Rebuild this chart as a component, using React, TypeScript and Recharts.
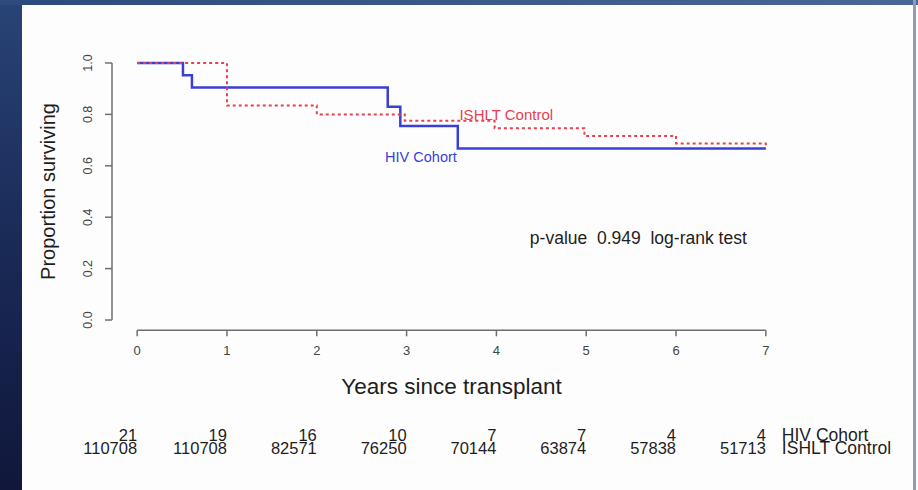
import React from 'react';
import {
  ComposedChart,
  Line,
  XAxis,
  YAxis,
  ReferenceLine,
  ReferenceDot,
} from 'recharts';

// Kaplan-Meier steps, one array for times and one for survival per group
const hivTimes = [0, 0.51, 0.61, 2.79, 2.93, 3.57, 7];
const hivSurv = [1, 0.952, 0.905, 0.83, 0.755, 0.667, 0.667];
const ishltTimes = [0, 1, 2, 2.98, 3.98, 4.98, 6, 7];
const ishltSurv = [1, 0.835, 0.8, 0.775, 0.746, 0.716, 0.687, 0.675];

const yearTicks = [0, 1, 2, 3, 4, 5, 6, 7];
const survTicks = [0, 0.2, 0.4, 0.6, 0.8, 1];

// numbers at risk under each year tick
const hivAtRisk = [21, 19, 16, 10, 7, 7, 4, 4];
const ishltAtRisk = [110708, 110708, 82571, 76250, 70144, 63874, 57838, 51713];
const groupNames = ['HIV Cohort', 'ISHLT Control'];

// non-breaking spaces keep the wide gaps (plain spaces get collapsed)
const pValueText = 'p-value\u00A0\u00A00.949\u00A0\u00A0log-rank test';

const FONT = "'Liberation Sans', Arial, Helvetica, sans-serif";
const BLUE = '#3a3fd8';
const RED = '#e8404e';
const AXIS = '#6f6f6f';

// R pads the plot region by 4% on each side
const X_DOMAIN: [number, number] = [-0.28, 7.28];
const Y_DOMAIN: [number, number] = [-0.04, 1.04];

const hivData = hivTimes.map((t, i) => ({ t, s: hivSurv[i] }));
const ishltData = ishltTimes.map((t, i) => ({ t, s: ishltSurv[i] }));

const XTick = (props: any) => {
  const { x, y, payload, index } = props;
  return (
    <g fontFamily={FONT}>
      <text x={x} y={y + 16.5} textAnchor="middle" fontSize={13} fill="#444">
        {payload.value}
      </text>
      <text x={x} y={y + 103} textAnchor="end" fontSize={16.5} fill="#1e1e1e">
        {hivAtRisk[index]}
      </text>
      <text x={x} y={y + 116} textAnchor="end" fontSize={16.5} fill="#1e1e1e">
        {ishltAtRisk[index]}
      </text>
      {index === yearTicks.length - 1 && (
        <>
          <text x={x + 16} y={y + 103} fontSize={17.5} fill="#1e1e1e">
            {groupNames[0]}
          </text>
          <text x={x + 16} y={y + 116} fontSize={17.5} fill="#1e1e1e">
            {groupNames[1]}
          </text>
        </>
      )}
    </g>
  );
};

const YTick = (props: any) => {
  const { x, y, payload } = props;
  return (
    <text
      x={x - 11}
      y={y}
      transform={`rotate(-90 ${x - 11} ${y})`}
      textAnchor="middle"
      fontSize={12.5}
      fontFamily={FONT}
      fill="#444"
    >
      {payload.value.toFixed(1)}
    </text>
  );
};

const YLabel = (props: any) => {
  const { viewBox } = props;
  const cy = viewBox.y + viewBox.height / 2;
  const cx = 55;
  return (
    <text
      x={cx}
      y={cy}
      transform={`rotate(-90 ${cx} ${cy})`}
      textAnchor="middle"
      fontSize={20}
      fontFamily={FONT}
      fill="#1e1e1e"
    >
      Proportion surviving
    </text>
  );
};

const App = () => {
  return (
    <div style={{ position: 'absolute', left: 0, top: 0, width: 918, height: 490, background: '#fdfdfd', overflow: 'hidden' }}>
      <div style={{ position: 'absolute', left: 0, top: 0, width: 22, height: 490, background: 'linear-gradient(#284476, #1a2a57 50%, #10173a)' }} />
      <div style={{ position: 'absolute', left: 0, top: 0, width: 918, height: 5, background: 'linear-gradient(90deg, #2d4a7e, #4a6798)' }} />
      <div style={{ position: 'absolute', left: 913, top: 0, width: 3, height: 490, background: '#8d9bb6' }} />
      <div style={{ position: 'absolute', left: 0, top: 0 }}>
        <ComposedChart
          width={918}
          height={490}
          margin={{ top: 52.7, right: 127, bottom: 129.7, left: 52 }}
        >
          <XAxis
            dataKey="t"
            type="number"
            domain={X_DOMAIN}
            allowDataOverflow
            ticks={yearTicks}
            height={30}
            axisLine={false}
            tickLine={{ stroke: AXIS, strokeWidth: 1.5 }}
            tickSize={6}
            tickMargin={2}
            tick={<XTick />}
            interval={0}
            label={{
              value: 'Years since transplant',
              position: 'bottom',
              offset: 18,
              fontSize: 22.5,
              fontFamily: FONT,
              fill: '#1e1e1e',
            }}
          />
          <YAxis
            type="number"
            domain={Y_DOMAIN}
            allowDataOverflow
            ticks={survTicks}
            width={60}
            axisLine={false}
            tickLine={{ stroke: AXIS, strokeWidth: 1.5 }}
            tickSize={7}
            tickMargin={2}
            tick={<YTick />}
            interval={0}
            label={<YLabel />}
          />
          <ReferenceLine
            segment={[{ x: 0, y: Y_DOMAIN[0] }, { x: 7, y: Y_DOMAIN[0] }]}
            stroke={AXIS}
            strokeWidth={1.5}
            ifOverflow="visible"
          />
          <ReferenceLine
            segment={[{ x: X_DOMAIN[0], y: 0 }, { x: X_DOMAIN[0], y: 1 }]}
            stroke={AXIS}
            strokeWidth={1.5}
            ifOverflow="visible"
          />
          <Line
            data={hivData}
            dataKey="s"
            type="stepAfter"
            stroke={BLUE}
            strokeWidth={2.5}
            dot={false}
            isAnimationActive={false}
          />
          <Line
            data={ishltData}
            dataKey="s"
            type="stepAfter"
            stroke={RED}
            strokeWidth={2}
            strokeDasharray="3 3"
            dot={false}
            isAnimationActive={false}
          />
          <ReferenceDot
            x={3.16}
            y={0.634}
            r={0}
            label={{ value: groupNames[0], position: 'center', fontSize: 14.5, fontFamily: FONT, fill: BLUE }}
          />
          <ReferenceDot
            x={4.11}
            y={0.798}
            r={0}
            label={{ value: groupNames[1], position: 'center', fontSize: 15, fontFamily: FONT, fill: RED }}
          />
          <ReferenceDot
            x={5.58}
            y={0.32}
            r={0}
            label={{ value: pValueText, position: 'center', fontSize: 17.5, fontFamily: FONT, fill: '#1e1e1e' }}
          />
        </ComposedChart>
      </div>
    </div>
  );
};

export default App;
